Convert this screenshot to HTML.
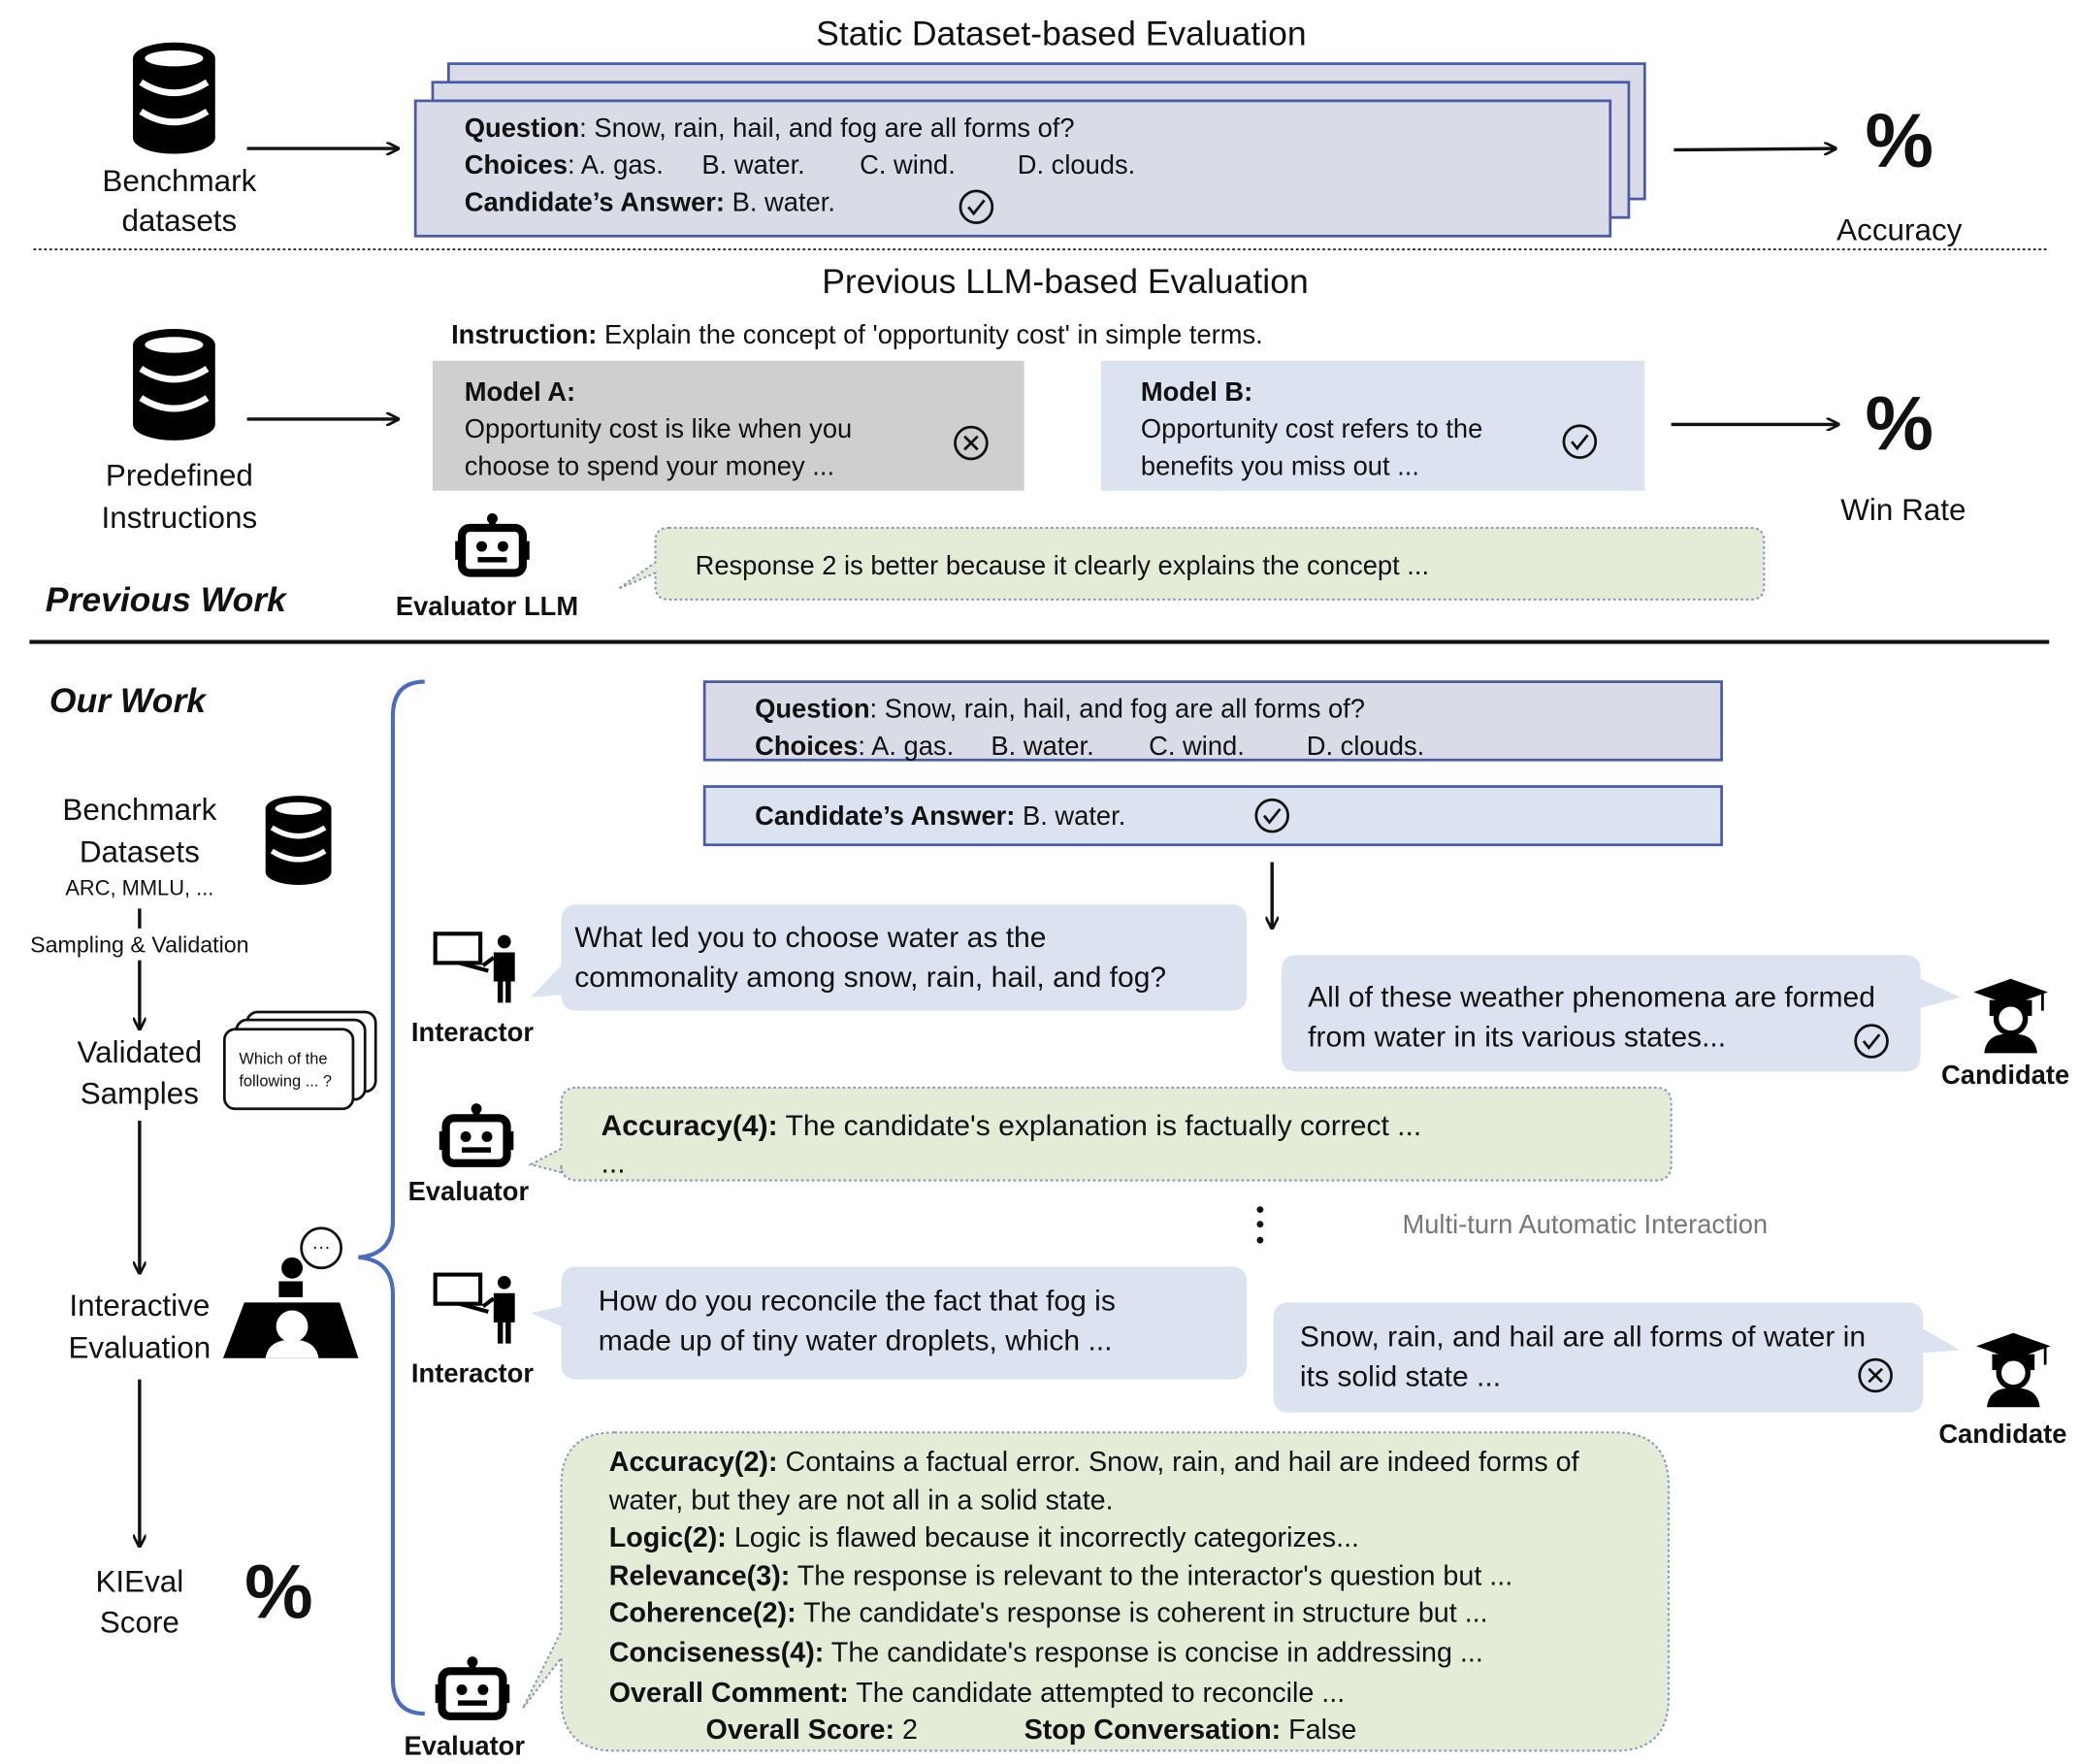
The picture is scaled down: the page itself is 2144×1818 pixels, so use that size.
<!DOCTYPE html>
<html><head><meta charset="utf-8"><style>
html,body{margin:0;padding:0;background:#fff}
svg{display:block}
text{font-family:"Liberation Sans",sans-serif;fill:#111}
.b{font-weight:bold}
.pc{font-weight:bold}
</style></head><body>
<svg width="2144" height="1818" viewBox="0 0 1568 1330" xmlns="http://www.w3.org/2000/svg">
<defs>
<marker id="ah" markerWidth="10" markerHeight="10" refX="9" refY="5" orient="auto" markerUnits="userSpaceOnUse"><path d="M0,0 L10,5 L0,10" fill="none" stroke="#111" stroke-width="2"/></marker>
<g id="db">
<ellipse cx="31" cy="12" rx="31" ry="12" fill="#000"/>
<rect x="0" y="12" width="62" height="60" fill="#000"/>
<ellipse cx="31" cy="72" rx="31" ry="12" fill="#000"/>
<ellipse cx="31" cy="12" rx="22" ry="6" fill="#fff"/>
<path d="M6,30 Q31,46 56,30" stroke="#fff" stroke-width="5" fill="none"/>
<path d="M6,52 Q31,68 56,52" stroke="#fff" stroke-width="5" fill="none"/>
</g>
<g id="robot">
<line x1="26" y1="0" x2="26" y2="10" stroke="#000" stroke-width="5"/>
<circle cx="26" cy="3" r="4" fill="#000"/>
<rect x="3" y="10" width="46" height="34" rx="6" fill="none" stroke="#000" stroke-width="6"/>
<rect x="-2" y="20" width="6" height="14" fill="#000"/><rect x="48" y="20" width="6" height="14" fill="#000"/>
<circle cx="18" cy="24" r="4" fill="#000"/><circle cx="34" cy="24" r="4" fill="#000"/>
<rect x="15" y="32" width="22" height="4" fill="#000"/>
</g>
<g id="inter">
<rect x="2" y="4" width="34" height="22" fill="#fff" stroke="#000" stroke-width="3"/>
<line x1="20" y1="26" x2="42" y2="32" stroke="#000" stroke-width="3"/>
<circle cx="54" cy="10" r="5" fill="#000"/>
<path d="M46,18 h16 v22 h-3 v16 h-4 v-16 h-2 v16 h-4 v-16 h-3z" fill="#000"/>
<line x1="46" y1="22" x2="38" y2="28" stroke="#000" stroke-width="3"/>
</g>
<g id="grad">
<path d="M0,10 L28,0 L56,10 L28,20z" fill="#000"/>
<path d="M12,16 v12 h32 v-12" fill="#000"/>
<circle cx="28" cy="30" r="11" fill="#fff" stroke="#000" stroke-width="4"/>
<path d="M8,56 Q10,40 28,42 Q46,40 48,56z" fill="#000"/>
<line x1="52" y1="10" x2="52" y2="24" stroke="#000" stroke-width="2"/>
</g>
<g id="chk"><circle r="12" fill="none" stroke="#111" stroke-width="2"/><path d="M-6,0 L-2,5 L6,-5" fill="none" stroke="#111" stroke-width="2"/></g>
<g id="xx"><circle r="12" fill="none" stroke="#111" stroke-width="2"/><path d="M-5,-5 L5,5 M5,-5 L-5,5" stroke="#111" stroke-width="2"/></g>
</defs>

<text x="800" y="34" font-size="26" text-anchor="middle">Static Dataset-based Evaluation</text>
<use href="#db" x="100" y="32"/>
<text x="135" y="144" font-size="23" text-anchor="middle">Benchmark</text>
<text x="135" y="174" font-size="23" text-anchor="middle">datasets</text>
<line x1="186" y1="112" x2="300" y2="112" stroke="#111" stroke-width="2.5" marker-end="url(#ah)"/>
<rect x="338" y="48" width="902" height="102" fill="#d9dce6" stroke="#4a5aa8" stroke-width="2"/>
<rect x="326" y="62" width="902" height="102" fill="#d9dce6" stroke="#4a5aa8" stroke-width="2"/>
<rect x="313" y="76" width="901" height="102" fill="#d9dce6" stroke="#4a5aa8" stroke-width="2"/>
<text x="350" y="103" font-size="20"><tspan class="b">Question</tspan>: Snow, rain, hail, and fog are all forms of?</text>
<text x="350" y="131" font-size="20"><tspan class="b">Choices</tspan>: A. gas.</text>
<text x="529" y="131" font-size="20">B. water.</text>
<text x="648" y="131" font-size="20">C. wind.</text>
<text x="767" y="131" font-size="20">D. clouds.</text>
<text x="350" y="159" font-size="20"><tspan class="b">Candidate’s Answer:</tspan> B. water.</text>
<use href="#chk" x="736" y="156"/>
<line x1="1262" y1="113" x2="1384" y2="112" stroke="#111" stroke-width="2.5" marker-end="url(#ah)"/>
<text x="1432" y="126" font-size="58" class="pc" text-anchor="middle">%</text>
<text x="1432" y="181" font-size="23" text-anchor="middle">Accuracy</text>
<line x1="25" y1="188" x2="1545" y2="188" stroke="#333" stroke-width="1.5" stroke-dasharray="2,2"/>

<text x="803" y="221" font-size="26" text-anchor="middle">Previous LLM-based Evaluation</text>
<use href="#db" x="100" y="248"/>
<text x="135" y="366" font-size="23" text-anchor="middle">Predefined</text>
<text x="135" y="398" font-size="23" text-anchor="middle">Instructions</text>
<line x1="186" y1="316" x2="300" y2="316" stroke="#111" stroke-width="2.5" marker-end="url(#ah)"/>
<text x="340" y="259" font-size="20"><tspan class="b">Instruction:</tspan> Explain the concept of 'opportunity cost' in simple terms.</text>
<rect x="326" y="272" width="446" height="98" fill="#cfcfcf"/>
<text x="350" y="302" font-size="20" class="b">Model A:</text>
<text x="350" y="330" font-size="20">Opportunity cost is like when you</text>
<text x="350" y="358" font-size="20">choose to spend your money ...</text>
<use href="#xx" x="732" y="334"/>
<rect x="830" y="272" width="410" height="98" fill="#dce3f0"/>
<text x="860" y="302" font-size="20" class="b">Model B:</text>
<text x="860" y="330" font-size="20">Opportunity cost refers to the</text>
<text x="860" y="358" font-size="20">benefits you miss out ...</text>
<use href="#chk" x="1191" y="333"/>
<line x1="1260" y1="320" x2="1386" y2="320" stroke="#111" stroke-width="2.5" marker-end="url(#ah)"/>
<text x="1432" y="339" font-size="58" class="pc" text-anchor="middle">%</text>
<text x="1435" y="392" font-size="23" text-anchor="middle">Win Rate</text>
<use href="#robot" x="345" y="388"/>
<text x="367" y="464" font-size="20" class="b" text-anchor="middle">Evaluator LLM</text>
<path d="M504,398 H1320 Q1330,398 1330,408 V442 Q1330,452 1320,452 H504 Q494,452 494,442 V432 L466,444 L494,424 V408 Q494,398 504,398z" fill="#e4ecd8" stroke="#8a9ab8" stroke-width="1.5" stroke-dasharray="2,2"/>
<text x="524" y="433" font-size="20">Response 2 is better because it clearly explains the concept ...</text>
<text x="34" y="461" font-size="26" class="b" font-style="italic">Previous Work</text>
<line x1="22" y1="484" x2="1545" y2="484" stroke="#111" stroke-width="3"/>

<text x="37" y="537" font-size="26" class="b" font-style="italic">Our Work</text>
<text x="105" y="618" font-size="23" text-anchor="middle">Benchmark</text>
<text x="105" y="650" font-size="23" text-anchor="middle">Datasets</text>
<text x="105" y="675" font-size="16" text-anchor="middle">ARC, MMLU, ...</text>
<use href="#db" x="200" y="600" transform="translate(200,600) scale(0.8) translate(-200,-600)"/>
<line x1="105" y1="685" x2="105" y2="776" stroke="#111" stroke-width="2.5" marker-end="url(#ah)"/>
<rect x="10" y="700" width="190" height="24" fill="#fff"/>
<text x="105" y="718" font-size="17" text-anchor="middle">Sampling &amp; Validation</text>
<text x="105" y="801" font-size="23" text-anchor="middle">Validated</text>
<text x="105" y="832" font-size="23" text-anchor="middle">Samples</text>
<rect x="186" y="763" width="97" height="60" rx="8" fill="#fff" stroke="#111" stroke-width="2"/>
<rect x="178" y="769" width="97" height="60" rx="8" fill="#fff" stroke="#111" stroke-width="2"/>
<rect x="169" y="776" width="97" height="60" rx="8" fill="#fff" stroke="#111" stroke-width="2"/>
<text x="180" y="802" font-size="12">Which of the</text>
<text x="180" y="819" font-size="12">following ... ?</text>
<line x1="105" y1="845" x2="105" y2="960" stroke="#111" stroke-width="2.5" marker-end="url(#ah)"/>
<text x="105" y="992" font-size="23" text-anchor="middle">Interactive</text>
<text x="105" y="1024" font-size="23" text-anchor="middle">Evaluation</text>
<circle cx="242" cy="941" r="15" fill="#fff" stroke="#111" stroke-width="2"/>
<text x="242" y="945" font-size="14" text-anchor="middle">···</text>
<circle cx="220" cy="956" r="8" fill="#000"/>
<path d="M210,966 h18 v12 h-18z" fill="#000"/>
<path d="M184,982 H256 L270,1024 H168z" fill="#000"/>
<circle cx="220" cy="1000" r="12" fill="#fff"/>
<path d="M200,1024 Q202,1010 220,1010 Q238,1010 240,1024z" fill="#fff"/>
<line x1="105" y1="1040" x2="105" y2="1166" stroke="#111" stroke-width="2.5" marker-end="url(#ah)"/>
<text x="105" y="1200" font-size="23" text-anchor="middle">KIEval</text>
<text x="105" y="1231" font-size="23" text-anchor="middle">Score</text>
<text x="210" y="1220" font-size="58" class="pc" text-anchor="middle">%</text>

<path d="M320,514 Q296,514 296,540 V920 Q296,946 270,948 Q296,950 296,976 V1266 Q296,1292 320,1292" fill="none" stroke="#4a6cc0" stroke-width="3"/>

<rect x="531" y="514" width="767" height="59" fill="#d9dce6" stroke="#4a5aa8" stroke-width="2"/>
<text x="569" y="541" font-size="20"><tspan class="b">Question</tspan>: Snow, rain, hail, and fog are all forms of?</text>
<text x="569" y="569" font-size="20"><tspan class="b">Choices</tspan>: A. gas.</text>
<text x="747" y="569" font-size="20">B. water.</text>
<text x="866" y="569" font-size="20">C. wind.</text>
<text x="985" y="569" font-size="20">D. clouds.</text>
<rect x="531" y="593" width="767" height="44" fill="#dce3f0" stroke="#4a5aa8" stroke-width="2"/>
<text x="569" y="622" font-size="20"><tspan class="b">Candidate’s Answer:</tspan> B. water.</text>
<use href="#chk" x="959" y="615"/>
<line x1="959" y1="650" x2="959" y2="700" stroke="#111" stroke-width="2.5" marker-end="url(#ah)"/>

<use href="#inter" x="326" y="700"/>
<text x="356" y="785" font-size="20" class="b" text-anchor="middle">Interactor</text>
<path d="M435,682 H928 Q940,682 940,694 V750 Q940,762 928,762 H435 Q423,762 423,750 L400,752 L423,728 V694 Q423,682 435,682z" fill="#dce3f0"/>
<text x="433" y="714" font-size="22">What led you to choose water as the</text>
<text x="433" y="744" font-size="22">commonality among snow, rain, hail, and fog?</text>

<path d="M978,720 H1436 Q1448,720 1448,732 V738 L1478,752 L1448,760 V796 Q1448,808 1436,808 H978 Q966,808 966,796 V732 Q966,720 978,720z" fill="#dce3f0"/>
<text x="986" y="759" font-size="22">All of these weather phenomena are formed</text>
<text x="986" y="789" font-size="22">from water in its various states...</text>
<use href="#chk" x="1411" y="785"/>
<use href="#grad" x="1488" y="738"/>
<text x="1512" y="817" font-size="20" class="b" text-anchor="middle">Candidate</text>

<use href="#robot" x="333" y="833"/>
<text x="353" y="905" font-size="20" class="b" text-anchor="middle">Evaluator</text>
<path d="M435,820 H1248 Q1260,820 1260,832 V878 Q1260,890 1248,890 H435 Q423,890 423,878 V884 L400,878 L423,866 V832 Q423,820 435,820z" fill="#e4ecd8" stroke="#8a9ab8" stroke-width="1.5" stroke-dasharray="2,2"/>
<text x="453" y="856" font-size="22"><tspan class="b">Accuracy(4):</tspan> The candidate's explanation is factually correct ...</text>
<text x="453" y="884" font-size="22">...</text>
<circle cx="950" cy="912" r="2.5" fill="#111"/><circle cx="950" cy="923" r="2.5" fill="#111"/><circle cx="950" cy="935" r="2.5" fill="#111"/>
<text x="1195" y="930" font-size="20" text-anchor="middle" style="fill:#777">Multi-turn Automatic Interaction</text>

<use href="#inter" x="326" y="957"/>
<text x="356" y="1042" font-size="20" class="b" text-anchor="middle">Interactor</text>
<path d="M435,955 H928 Q940,955 940,967 V1028 Q940,1040 928,1040 H435 Q423,1040 423,1028 V1000 L400,990 L423,985 V967 Q423,955 435,955z" fill="#dce3f0"/>
<text x="451" y="988" font-size="22">How do you reconcile the fact that fog is</text>
<text x="451" y="1018" font-size="22">made up of tiny water droplets, which ...</text>

<path d="M972,982 H1438 Q1450,982 1450,994 V1002 L1478,1018 L1450,1020 V1053 Q1450,1065 1438,1065 H972 Q960,1065 960,1053 V994 Q960,982 972,982z" fill="#dce3f0"/>
<text x="980" y="1015" font-size="22">Snow, rain, and hail are all forms of water in</text>
<text x="980" y="1045" font-size="22">its solid state ...</text>
<use href="#xx" x="1414" y="1037"/>
<use href="#grad" x="1490" y="1005"/>
<text x="1510" y="1088" font-size="20" class="b" text-anchor="middle">Candidate</text>

<path d="M463,1080 H1218 Q1258,1080 1258,1120 V1280 Q1258,1320 1218,1320 H463 Q423,1320 423,1280 V1250 L394,1288 L423,1230 V1120 Q423,1080 463,1080z" fill="#e4ecd8" stroke="#8a9ab8" stroke-width="1.5" stroke-dasharray="2,2"/>
<text x="459" y="1109" font-size="21"><tspan class="b">Accuracy(2):</tspan> Contains a factual error. Snow, rain, and hail are indeed forms of</text>
<text x="459" y="1138" font-size="21">water, but they are not all in a solid state.</text>
<text x="459" y="1166" font-size="21"><tspan class="b">Logic(2):</tspan> Logic is flawed because it incorrectly categorizes...</text>
<text x="459" y="1195" font-size="21"><tspan class="b">Relevance(3):</tspan> The response is relevant to the interactor's question but ...</text>
<text x="459" y="1223" font-size="21"><tspan class="b">Coherence(2):</tspan> The candidate's response is coherent in structure but ...</text>
<text x="459" y="1253" font-size="21"><tspan class="b">Conciseness(4):</tspan> The candidate's response is concise in addressing ...</text>
<text x="459" y="1283" font-size="21"><tspan class="b">Overall Comment:</tspan> The candidate attempted to reconcile ...</text>
<text x="532" y="1311" font-size="21"><tspan class="b">Overall Score:</tspan> 2</text>
<text x="772" y="1311" font-size="21"><tspan class="b">Stop Conversation:</tspan> False</text>
<use href="#robot" x="330" y="1250"/>
<text x="350" y="1323" font-size="20" class="b" text-anchor="middle">Evaluator</text>
</svg>
</body></html>
